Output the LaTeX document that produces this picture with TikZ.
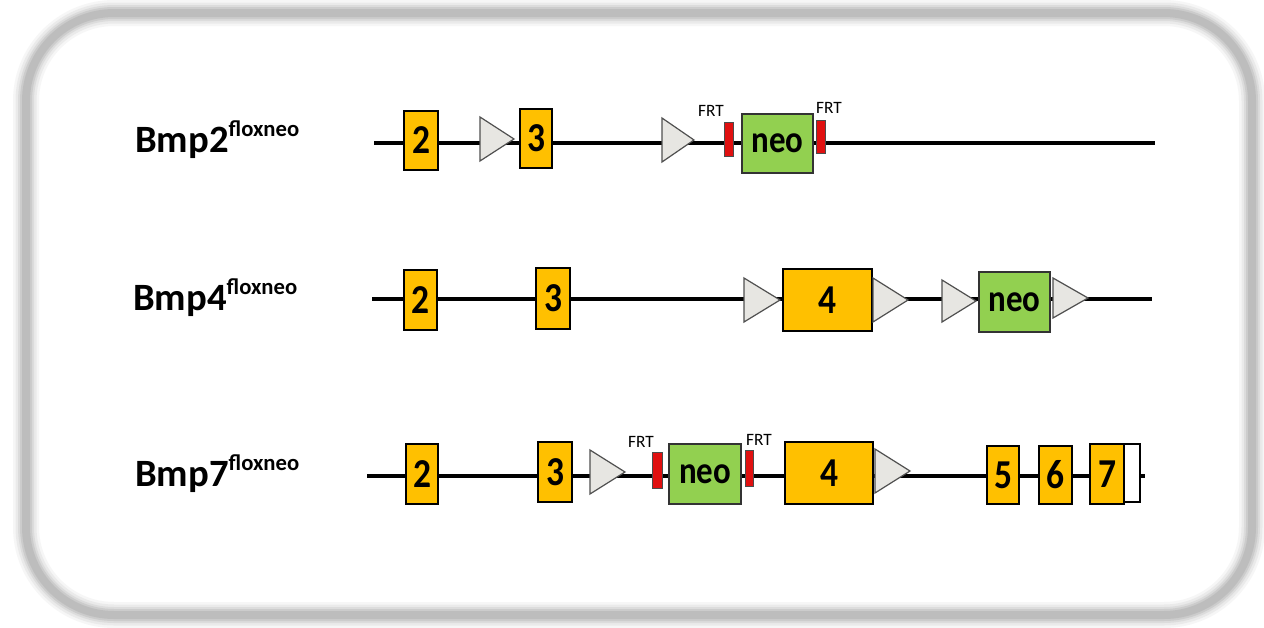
\documentclass[tikz,border=0pt]{standalone}
\usepackage{fontspec}
\setmainfont{Carlito}
\definecolor{exon}{HTML}{FFC000}
\definecolor{neogreen}{HTML}{92D050}
\definecolor{frtred}{HTML}{E01010}
\definecolor{loxfill}{HTML}{E7E6E2}
\definecolor{loxdraw}{HTML}{505050}
\definecolor{framegray}{HTML}{A8A8A8}

% a box spanning (x1,y1)-(x2,y2) in pixel units
\newcommand\genebox[7]{%
  \node[#2, minimum width={(#5-#3)*0.75pt}, minimum height={(#6-#4)*0.75pt}]
    (#1) at ({(#3+#5)/2},{(#4+#6)/2}) {#7};}
% a loxP triangle: name, left x, axis y, width, half height
\newcommand\loxsite[5]{%
  \coordinate (#1) at (#2,#3);
  \draw[loxtri] (#1) ++(0,-#5) -- ++(#4,#5) -- ++(-#4,#5) -- cycle;}
% allele name with raised "floxneo"
\newcommand\allele[1]{#1\raisebox{12pt}{\fontsize{17}{17}\selectfont floxneo}}
% slightly tall lettering inside the boxes
\newcommand\tall[1]{\scalebox{0.95}[1.1]{#1}}

\begin{document}
\begin{tikzpicture}[x=0.75pt,y=-0.75pt,
  backbone/.style={line width=3.6pt,black},
  exonbox/.style={draw=black,line width=0.9pt,fill=exon,inner sep=0pt,
    font=\bfseries\fontsize{28}{28}\selectfont},
  neobox/.style={draw=black!80,line width=0.9pt,fill=neogreen,inner sep=0pt,
    font=\bfseries\fontsize{26}{26}\selectfont},
  utrbox/.style={draw=black,line width=0.9pt,fill=white,inner sep=0pt},
  frtbar/.style={draw=black!70,line width=0.5pt,fill=frtred,inner sep=0pt},
  loxtri/.style={draw=loxdraw,line width=0.9pt,fill=loxfill,line join=miter},
  frtlabel/.style={font=\fontsize{13}{13}\selectfont,inner sep=0pt},
  alleletag/.style={font=\bfseries\fontsize{29}{29}\selectfont,inner sep=0pt,anchor=base west}]

\useasboundingbox (0,0) rectangle (1264,628);
\fill[white] (0,0) rectangle (1264,628);

% soft grey rounded frame
\foreach \w/\o in {26/0.10,21/0.14,16/0.2,12/0.3,8/0.4}{
  \draw[framegray,line width=\w*0.75pt,opacity=\o,rounded corners=66pt]
    (26,13) rectangle (1252,615);
}

% ---------- Bmp2 floxneo ----------
\node[alleletag] (lab2) at (135,152) {\allele{Bmp2}};
\coordinate (b2s) at (374,143);
\coordinate (b2e) at (1155,143);
\draw[backbone] (b2s) -- (b2e);
\genebox{b2x2}{exonbox}{404}{111}{438}{170}{\tall{2}}
\loxsite{b2lox1}{480}{139}{34}{22}
\genebox{b2x3}{exonbox}{520}{109}{552}{168}{\tall{3}}
\loxsite{b2lox2}{662}{140}{32}{22}
\genebox{b2frt1}{frtbar}{724}{122}{733}{156}{}
\genebox{b2neo}{neobox}{742}{114}{813}{173}{\tall{neo}}
\genebox{b2frt2}{frtbar}{816}{120}{825}{153}{}
\node[frtlabel] (b2f1) at (711,111) {FRT};
\node[frtlabel] (b2f2) at (829,108) {FRT};

% ---------- Bmp4 floxneo ----------
\node[alleletag] (lab4) at (133,310) {\allele{Bmp4}};
\coordinate (b4s) at (372,299);
\coordinate (b4e) at (1152,299);
\draw[backbone] (b4s) -- (b4e);
\genebox{b4x2}{exonbox}{404}{270}{437}{330}{\tall{2}}
\genebox{b4x3}{exonbox}{536}{268}{570}{329}{\tall{3}}
\loxsite{b4lox1}{744}{300}{36}{22}
\genebox{b4x4}{exonbox}{783}{269}{872}{331}{\tall{4}}
\loxsite{b4lox2}{873}{300}{35}{22}
\loxsite{b4lox3}{942}{301}{34}{21}
\genebox{b4neo}{neobox}{979}{272}{1050}{332}{\tall{neo}}
\loxsite{b4lox4}{1053}{298}{35}{20}

% ---------- Bmp7 floxneo ----------
\node[alleletag] (lab7) at (135,486) {\allele{Bmp7}};
\coordinate (b7s) at (367,476);
\coordinate (b7e) at (1145,476);
\draw[backbone] (b7s) -- (b7e);
\genebox{b7x2}{exonbox}{406}{444}{438}{504}{\tall{2}}
\genebox{b7x3}{exonbox}{538}{442}{572}{502}{\tall{3}}
\loxsite{b7lox1}{590}{472}{35}{22}
\genebox{b7frt1}{frtbar}{652}{452}{662}{488}{}
\genebox{b7neo}{neobox}{669}{444}{741}{504}{\tall{neo}}
\genebox{b7frt2}{frtbar}{745}{450}{753}{486}{}
\node[frtlabel] (b7f1) at (641,442) {FRT};
\node[frtlabel] (b7f2) at (759,440) {FRT};
\genebox{b7x4}{exonbox}{785}{442}{873}{504}{\tall{4}}
\loxsite{b7lox2}{875}{471}{35}{22}
\genebox{b7x5}{exonbox}{987}{446}{1019}{504}{\tall{5}}
\genebox{b7x6}{exonbox}{1039}{446}{1072}{504}{\tall{6}}
\genebox{b7utr}{utrbox}{1122}{444}{1140}{502}{}
\genebox{b7x7}{exonbox}{1090}{444}{1124}{504}{\tall{7}}
\end{tikzpicture}
\end{document}
